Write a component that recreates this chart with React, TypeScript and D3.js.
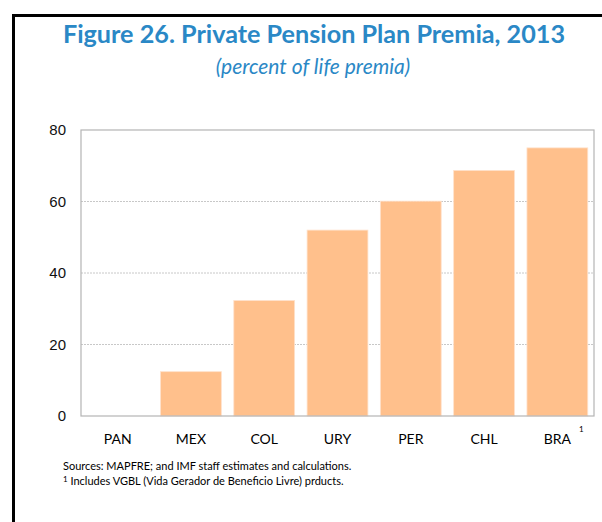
import React from "react";
import * as d3 from "d3";

const categories = ["PAN", "MEX", "COL", "URY", "PER", "CHL", "BRA"];
const values = [0, 12.4, 32.3, 52.0, 60.1, 68.7, 75.0];
const yTicks = [0, 20, 40, 60, 80];
const titleText = "Figure 26. Private Pension Plan Premia, 2013";
const subtitleText = "(percent of life premia)";
const sourceText = "Sources: MAPFRE; and IMF staff estimates and calculations.";
const noteText = "Includes VGBL (Vida Gerador de Beneficio Livre) prducts.";

export default function App() {
  const W = 602, H = 522;
  const left = 81, right = 594, top = 130, bottom = 416;
  const x = d3.scaleBand<string>().domain(categories).range([left, right]).paddingInner(0.17).paddingOuter(0.085);
  const y = d3.scaleLinear().domain([0, 80]).range([bottom, top]);
  const font = "Lato, 'Open Sans', sans-serif";
  return (
    <svg width={W} height={H} style={{ position: "absolute", left: 0, top: 0, background: "#fff" }}>
      <rect x={0} y={0} width={W} height={H} fill="#fff" />
      <path d={`M13.5,${H + 5} V15.5 H${W + 5}`} fill="none" stroke="#000" strokeWidth={3} />
      <text x={314} y={43} textAnchor="middle" fontFamily={font} fontWeight={700} fontSize={25.2} fill="#2a88c6">{titleText}</text>
      <text x={313} y={74} textAnchor="middle" fontFamily={font} fontStyle="italic" fontSize={21} fill="#2a88c6">{subtitleText}</text>
      {yTicks.filter(t => t > 0 && t < 80).map(t => (
        <line key={t} x1={left} x2={right} y1={y(t)} y2={y(t)} stroke="#c8c8c8" strokeWidth={1} strokeDasharray="2,1" />
      ))}
      {categories.map((c, i) => (
        values[i] > 0 ? (
          <rect key={c} x={x(c)} y={y(values[i])} width={x.bandwidth()} height={bottom - y(values[i])}
            fill="#ffc08c" stroke="#ffe2cc" strokeWidth={0.8} />
        ) : null
      ))}
      <rect x={left} y={top} width={right - left} height={bottom - top} fill="none" stroke="#b4b4b4" strokeWidth={1.2} />
      {yTicks.map(t => (
        <text key={t} x={66} y={y(t) + 5} textAnchor="end" fontFamily="'Liberation Sans', Arial, sans-serif" fontSize={15} fill="#111">{t}</text>
      ))}
      {categories.map(c => (
        <text key={c} x={(x(c) as number) + x.bandwidth() / 2} y={444} textAnchor="middle" fontFamily={font} fontSize={14} fill="#000">{c}</text>
      ))}
      <text x={(x("BRA") as number) + x.bandwidth() / 2 + 24} y={432} textAnchor="middle" fontFamily={font} fontSize={8} fill="#000">1</text>
      <text x={63} y={470} fontFamily={font} fontSize={11} fill="#000">{sourceText}</text>
      <text x={63} y={485} fontFamily={font} fontSize={11} fill="#000">
        <tspan fontSize={8} dy={-3}>1</tspan><tspan dy={3}> {noteText}</tspan>
      </text>
    </svg>
  );
}
